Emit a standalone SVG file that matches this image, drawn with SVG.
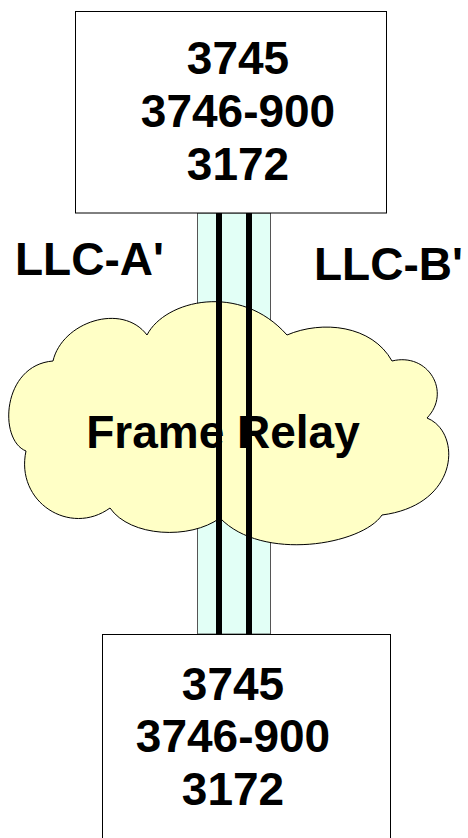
<svg xmlns="http://www.w3.org/2000/svg" width="468" height="838" viewBox="0 0 468 838">
  <style>
    .t { font-family: "Liberation Sans", Arial, sans-serif; font-weight: bold; font-size: 46px; fill: #000; }
    .box { fill: #fff; stroke: #000; stroke-width: 1; }
    .link { stroke: #000; stroke-width: 6; fill: none; }
  </style>
  <rect width="468" height="838" fill="#fff"/>
  <g id="pipe">
    <rect x="197.5" y="213" width="73" height="421" fill="#e2fff6" stroke="#555" stroke-width="1"/>
  </g>
  <g id="host-top">
    <rect class="box" x="75.5" y="11.5" width="311" height="201.5"/>
    <text class="t" x="238" y="74" text-anchor="middle">3745</text>
    <text class="t" x="238" y="127" text-anchor="middle">3746-900</text>
    <text class="t" x="238" y="180" text-anchor="middle">3172</text>
  </g>
  <g id="frame-relay">
    <path d="M147,335 C165,300 240,282 287,335 C322,320 372,325 392,361 C428,352 452,392 427,418 C462,432 460,505 382,515 C362,545 262,562 220,518 C190,540 130,537 110,508 C70,537 15,502 26,451 C-2,440 2,365 53,361 C62,322 122,302 147,335 Z" fill="#ffffc6" stroke="#000" stroke-width="1"/>
    <text class="t" x="223" y="448" text-anchor="middle">Frame Relay</text>
  </g>
  <g id="host-bottom">
    <rect class="box" x="102.5" y="634.5" width="288" height="220"/>
    <text class="t" x="233" y="700" text-anchor="middle">3745</text>
    <text class="t" x="233" y="752" text-anchor="middle">3746-900</text>
    <text class="t" x="233" y="805" text-anchor="middle">3172</text>
  </g>
  <g id="connectors">
    <line class="link" x1="219" y1="213" x2="219" y2="634"/>
    <line class="link" x1="249" y1="213" x2="249" y2="634"/>
  </g>
  <g id="labels">
    <text class="t" x="15" y="275">LLC-A'</text>
    <text class="t" x="314" y="280">LLC-B'</text>
  </g>
</svg>
